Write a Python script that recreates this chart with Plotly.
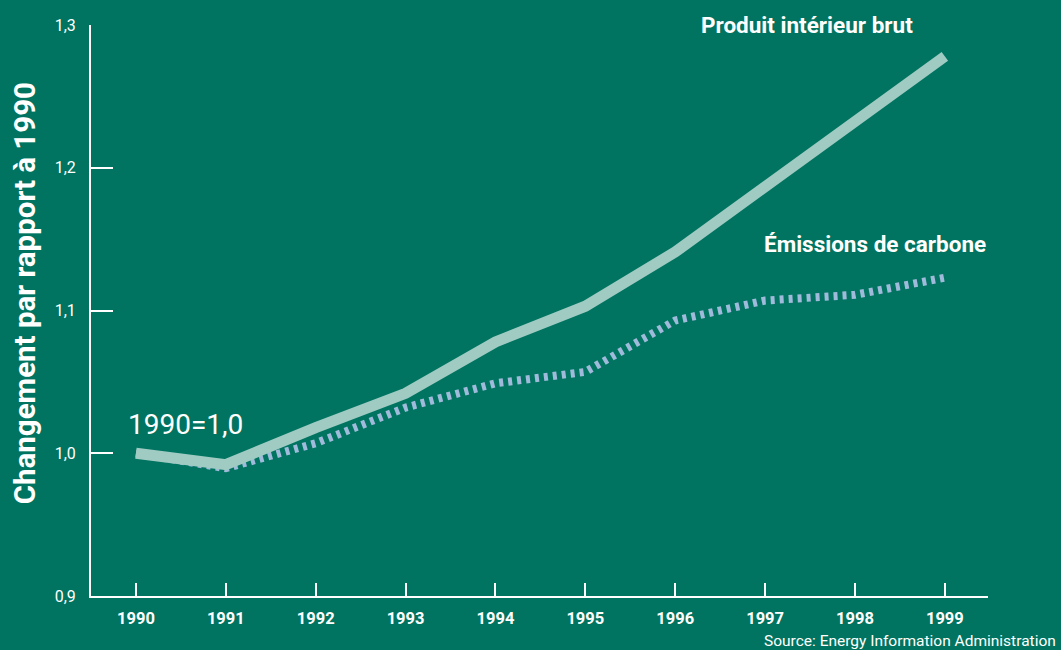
import plotly.graph_objects as go

years = [1990, 1991, 1992, 1993, 1994, 1995, 1996, 1997, 1998, 1999]
pib = [1.0, 0.992, 1.018, 1.042, 1.078, 1.103, 1.141, 1.187, 1.231, 1.278]
carbone = [1.0, 0.9895, 1.007, 1.032, 1.049, 1.057, 1.093, 1.107, 1.111, 1.123]
y_ticks = [0.9, 1.0, 1.1, 1.2, 1.3]
y_labels = ["0,9", "1,0", "1,1", "1,2", "1,3"]

BG = "#007460"
FONT = "Roboto, sans-serif"

fig = go.Figure()
fig.add_trace(go.Scatter(x=years, y=carbone, mode="lines",
                         line=dict(color="#A0BADB", width=8, dash="4px,5px"),
                         showlegend=False, hoverinfo="skip"))
fig.add_trace(go.Scatter(x=years, y=pib, mode="lines",
                         line=dict(color="#9FCBC3", width=11),
                         showlegend=False, hoverinfo="skip"))

fig.update_layout(
    width=1061, height=650,
    paper_bgcolor=BG, plot_bgcolor=BG,
    margin=dict(l=91, r=73, t=25, b=54),
    font=dict(family=FONT, color="white"),
    xaxis=dict(range=[1989.5, 1999.48], tickvals=years, ticktext=[str(y) for y in years],
               showgrid=False, zeroline=False, showline=True, linecolor="white", linewidth=2,
               ticks="inside", ticklen=13, tickcolor="white", tickwidth=1.5,
               ticklabelstandoff=6,
               tickfont=dict(size=16.5, family=FONT, color="white", weight="bold")),
    yaxis=dict(range=[0.9, 1.3], tickvals=y_ticks, ticktext=y_labels,
               showgrid=False, zeroline=False, showline=True, linecolor="white", linewidth=2,
               ticks="inside", ticklen=22, tickcolor="white", tickwidth=1.5,
               ticklabelstandoff=10,
               tickfont=dict(size=16, family=FONT, color="white")),
)

fig.add_annotation(text="Changement par rapport à 1990", xref="paper", yref="paper",
                   x=-0.0736, y=0.53, xanchor="center", yanchor="middle", textangle=-90,
                   showarrow=False,
                   font=dict(size=29.5, family=FONT, color="white", weight="bold"))
fig.add_annotation(text="Produit intérieur brut", xref="x", yref="paper",
                   x=1997.47, y=1.0, xanchor="center", yanchor="middle", showarrow=False,
                   font=dict(size=22.5, family=FONT, color="white", weight="bold"))
fig.add_annotation(text="Émissions de carbone", xref="x", yref="y",
                   x=1998.22, y=1.1466, xanchor="center", yanchor="middle", showarrow=False,
                   font=dict(size=22.5, family=FONT, color="white", weight="bold"))
fig.add_annotation(text="1990=1,0", xref="x", yref="y",
                   x=1990.55, y=1.02, xanchor="center", yanchor="middle", showarrow=False,
                   font=dict(size=28, family=FONT, color="white"))
fig.add_annotation(text="Source: Energy Information Administration", xref="paper", yref="paper",
                   x=1.0 + 70/897, y=-0.078, xanchor="right", yanchor="middle", showarrow=False,
                   font=dict(size=15.5, family=FONT, color="white"))

fig.write_html("out.html")
